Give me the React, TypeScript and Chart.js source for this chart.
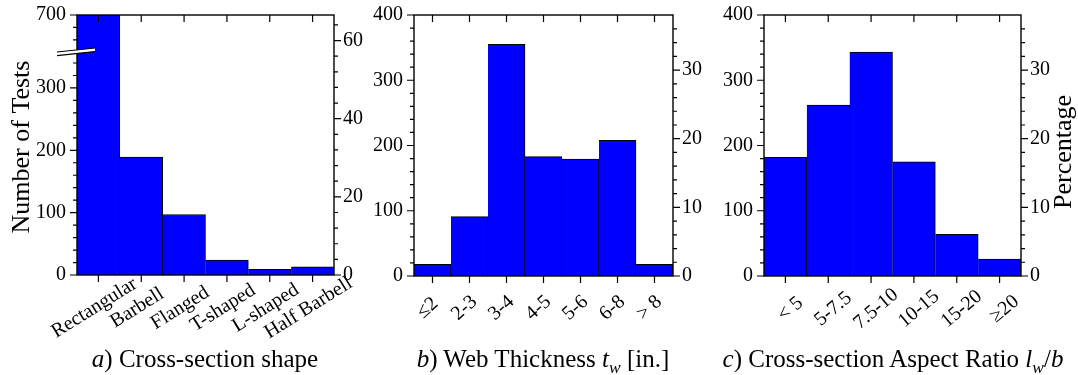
import React, { useEffect, useRef } from 'react';
import { Chart, registerables } from 'chart.js';

Chart.register(...registerables);

const FONT = '"Liberation Serif", "Times New Roman", serif';

// ---------- data ----------
const shapeLabels = ['Rectangular', 'Barbell', 'Flanged', 'T-shaped', 'L-shaped', 'Half Barbell'];
const shapeCounts = [720, 189, 97, 24, 9, 13];

const thicknessLabels = ['≤2', '2-3', '3-4', '4-5', '5-6', '6-8', '> 8'];
const thicknessCounts = [18, 91, 355, 183, 179, 208, 18];

const ratioLabels = ['< 5', '5-7.5', '7.5-10', '10-15', '15-20', '≥20'];
const ratioCounts = [182, 262, 343, 175, 64, 26];

// ---------- ticks ----------
// panel a uses a broken count axis: the top of the axis stands for 700
const shapeAxisTop = 417;
const shapeTopLabel = '700';
const shapeTopCount = 700;
const shapeBreakValue = 358;
const shapeLeftMajor = [0, 100, 200, 300, shapeAxisTop];
const shapeLeftMinor = [20, 40, 60, 80, 120, 140, 160, 180, 220, 240, 260, 280, 320, 340, 377, 397];
const shapeRightMajor = [0, 20, 40, 60];
const shapeRightMinor = [4, 8, 12, 16, 24, 28, 32, 36, 44, 48, 52, 56, 64];

const countMax = 400;
const countMajor = [0, 100, 200, 300, 400];
const countMinor = [20, 40, 60, 80, 120, 140, 160, 180, 220, 240, 260, 280, 320, 340, 360, 380];
const pctMajor = [0, 10, 20, 30];
const pctMinor = [2, 4, 6, 8, 12, 14, 16, 18, 22, 24, 26, 28, 32, 34, 36];

const sum = (a: number[]) => a.reduce((s, v) => s + v, 0);

type Cfg = {
  labels: string[];
  counts: number[];
  leftMax: number;
  leftMajor: number[];
  leftMinor: number[];
  leftLabel: (v: number) => string;
  rightMax: number;
  rightMajor: number[];
  rightMinor: number[];
  canvasX: number;
  canvasW: number;
  leftW: number;
  rightW: number;
  xH: number;
  angle: number;
  dx: number;
  labelY: number;
  extra?: (ctx: CanvasRenderingContext2D, chart: any) => void;
};

function makeDecor(cfg: Cfg) {
  return {
    id: 'decor',
    afterDatasetsDraw(chart: any) {
      const { ctx, chartArea: a, scales } = chart;
      const x = scales.x;
      const yl = scales.y;
      const yr = scales.y1;
      ctx.save();
      ctx.strokeStyle = '#000';
      ctx.lineWidth = 1.2;
      ctx.beginPath();
      cfg.labels.forEach((_, i) => {
        const px = x.getPixelForValue(i);
        ctx.moveTo(px, a.bottom);
        ctx.lineTo(px, a.bottom + 7);
        ctx.moveTo(px, a.top);
        ctx.lineTo(px, a.top + 7);
      });
      cfg.leftMajor.forEach((v) => {
        const py = yl.getPixelForValue(v);
        ctx.moveTo(a.left, py);
        ctx.lineTo(a.left - 7, py);
      });
      cfg.leftMinor.forEach((v) => {
        const py = yl.getPixelForValue(v);
        ctx.moveTo(a.left, py);
        ctx.lineTo(a.left - 4, py);
      });
      cfg.rightMajor.forEach((v) => {
        const py = yr.getPixelForValue(v);
        ctx.moveTo(a.right, py);
        ctx.lineTo(a.right + 7, py);
      });
      cfg.rightMinor.forEach((v) => {
        const py = yr.getPixelForValue(v);
        ctx.moveTo(a.right, py);
        ctx.lineTo(a.right + 4, py);
      });
      ctx.stroke();
      ctx.lineWidth = 1.4;
      ctx.strokeRect(a.left, a.top, a.right - a.left, a.bottom - a.top);

      ctx.fillStyle = '#000';
      ctx.font = `20px ${FONT}`;
      ctx.textAlign = 'center';
      ctx.textBaseline = 'middle';
      cfg.labels.forEach((t, i) => {
        const px = x.getPixelForValue(i) + cfg.dx;
        ctx.save();
        ctx.translate(px, cfg.labelY);
        ctx.rotate((-cfg.angle * Math.PI) / 180);
        ctx.fillText(t, 0, 0);
        ctx.restore();
      });
      if (cfg.extra) cfg.extra(ctx, chart);
      ctx.restore();
    },
  };
}

const tickFont = { family: FONT, size: 20 };

const zeroPad = (s: any) => {
  s.paddingTop = 0;
  s.paddingBottom = 0;
  s.paddingLeft = 0;
  s.paddingRight = 0;
};

function Panel({ cfg }: { cfg: Cfg }) {
  const ref = useRef<HTMLCanvasElement | null>(null);
  useEffect(() => {
    if (!ref.current) return;
    const chart = new Chart(ref.current, {
      type: 'bar',
      data: {
        labels: cfg.labels,
        datasets: [
          {
            data: cfg.counts,
            backgroundColor: '#0000ff',
            borderColor: '#000000',
            borderWidth: { top: 1, right: 1, bottom: 0, left: 0 },
            borderSkipped: false,
            categoryPercentage: 1,
            barPercentage: 1,
            clip: 0,
          } as any,
        ],
      },
      options: {
        animation: false,
        responsive: false,
        events: [],
        layout: { padding: { top: 15, left: 0, right: 0, bottom: 0 } },
        plugins: { legend: { display: false }, tooltip: { enabled: false }, title: { display: false } },
        scales: {
          x: {
            type: 'category',
            offset: true,
            grid: { display: false, drawTicks: false },
            border: { display: false },
            ticks: { display: false },
            afterFit: (s: any) => {
              s.height = cfg.xH;
              zeroPad(s);
            },
          },
          y: {
            type: 'linear',
            position: 'left',
            min: 0,
            max: cfg.leftMax,
            grid: { display: false, drawTicks: false },
            border: { display: false },
            ticks: {
              font: tickFont,
              color: '#000',
              padding: 11,
              callback: (v: any) => cfg.leftLabel(Number(v)),
            },
            afterBuildTicks: (s: any) => {
              s.ticks = cfg.leftMajor.map((v) => ({ value: v }));
            },
            afterFit: (s: any) => {
              s.width = cfg.leftW;
              zeroPad(s);
            },
          },
          y1: {
            type: 'linear',
            position: 'right',
            min: 0,
            max: cfg.rightMax,
            grid: { display: false, drawTicks: false },
            border: { display: false },
            ticks: { font: tickFont, color: '#000', padding: 9 },
            afterBuildTicks: (s: any) => {
              s.ticks = cfg.rightMajor.map((v) => ({ value: v }));
            },
            afterFit: (s: any) => {
              s.width = cfg.rightW;
              zeroPad(s);
            },
          },
        },
      } as any,
      plugins: [makeDecor(cfg)],
    });
    return () => chart.destroy();
  }, [cfg]);
  return (
    <canvas
      ref={ref}
      width={cfg.canvasW}
      height={375}
      style={{ position: 'absolute', left: cfg.canvasX, top: 0, width: cfg.canvasW, height: 375 }}
    />
  );
}

const shapeTotal = sum(shapeCounts);
const thicknessTotal = sum(thicknessCounts);
const ratioTotal = sum(ratioCounts);

const cfgA: Cfg = {
  labels: shapeLabels,
  counts: shapeCounts,
  leftMax: shapeAxisTop,
  leftMajor: shapeLeftMajor,
  leftMinor: shapeLeftMinor,
  leftLabel: (v) => (v === shapeAxisTop ? shapeTopLabel : String(v)),
  rightMax: (shapeTopCount / shapeTotal) * 100,
  rightMajor: shapeRightMajor,
  rightMinor: shapeRightMinor,
  canvasX: 0,
  canvasW: 370,
  leftW: 77,
  rightW: 36,
  xH: 100,
  angle: 32,
  dx: -4,
  labelY: 308,
  extra: (ctx, chart) => {
    const a = chart.chartArea;
    const yl = chart.scales.y;
    const yc = yl.getPixelForValue(shapeBreakValue);
    const x1 = a.left - 20;
    const x2 = a.left + 18;
    const rise = 4;
    const gap = 3.6;
    ctx.save();
    ctx.fillStyle = '#ffffff';
    ctx.beginPath();
    ctx.moveTo(x1, yc + rise / 2 - gap / 2);
    ctx.lineTo(x2, yc - rise / 2 - gap / 2);
    ctx.lineTo(x2, yc - rise / 2 + gap / 2);
    ctx.lineTo(x1, yc + rise / 2 + gap / 2);
    ctx.closePath();
    ctx.fill();
    ctx.strokeStyle = '#000';
    ctx.lineWidth = 1.2;
    ctx.beginPath();
    ctx.moveTo(x1, yc + rise / 2 - gap / 2);
    ctx.lineTo(x2, yc - rise / 2 - gap / 2);
    ctx.moveTo(x1, yc + rise / 2 + gap / 2);
    ctx.lineTo(x2, yc - rise / 2 + gap / 2);
    ctx.stroke();
    ctx.restore();

    ctx.save();
    ctx.font = `26px ${FONT}`;
    ctx.fillStyle = '#000';
    ctx.textAlign = 'center';
    ctx.textBaseline = 'middle';
    ctx.translate(22, 147);
    ctx.rotate(-Math.PI / 2);
    ctx.fillText('Number of Tests', 0, 0);
    ctx.restore();
  },
};

const cfgB: Cfg = {
  labels: thicknessLabels,
  counts: thicknessCounts,
  leftMax: countMax,
  leftMajor: countMajor,
  leftMinor: countMinor,
  leftLabel: (v) => String(v),
  rightMax: (countMax / thicknessTotal) * 100,
  rightMajor: pctMajor,
  rightMinor: pctMinor,
  canvasX: 370,
  canvasW: 350,
  leftW: 44,
  rightW: 47,
  xH: 99,
  angle: 42,
  dx: -5,
  labelY: 308,
};

const cfgC: Cfg = {
  labels: ratioLabels,
  counts: ratioCounts,
  leftMax: countMax,
  leftMajor: countMajor,
  leftMinor: countMinor,
  leftLabel: (v) => String(v),
  rightMax: (countMax / ratioTotal) * 100,
  rightMajor: pctMajor,
  rightMinor: pctMinor,
  canvasX: 720,
  canvasW: 358,
  leftW: 44,
  rightW: 57,
  xH: 99,
  angle: 40,
  dx: 5,
  labelY: 309,
  extra: (ctx) => {
    ctx.save();
    ctx.font = `26px ${FONT}`;
    ctx.fillStyle = '#000';
    ctx.textAlign = 'center';
    ctx.textBaseline = 'middle';
    ctx.translate(344, 152);
    ctx.rotate(-Math.PI / 2);
    ctx.fillText('Percentage', 0, 0);
    ctx.restore();
  },
};

const captionStyle = (cx: number): React.CSSProperties => ({
  position: 'absolute',
  left: cx - 250,
  top: 346,
  width: 500,
  textAlign: 'center',
  fontFamily: FONT,
  fontSize: 25,
  lineHeight: '25px',
  whiteSpace: 'nowrap',
  color: '#000',
});

const subStyle: React.CSSProperties = { fontSize: '0.7em', lineHeight: 0, fontStyle: 'italic' };

export default function App() {
  return (
    <div style={{ position: 'absolute', left: 0, top: 0, width: 1078, height: 375, background: '#fff' }}>
      <Panel cfg={cfgA} />
      <Panel cfg={cfgB} />
      <Panel cfg={cfgC} />
      <div style={captionStyle(205)}>
        <i>a</i>) Cross-section shape
      </div>
      <div style={captionStyle(543)}>
        <i>b</i>) Web Thickness <i>t</i>
        <sub style={subStyle}>w</sub> [in.]
      </div>
      <div style={captionStyle(893)}>
        <i>c</i>) Cross-section Aspect Ratio <i>l</i>
        <sub style={subStyle}>w</sub>/<i>b</i>
      </div>
    </div>
  );
}
